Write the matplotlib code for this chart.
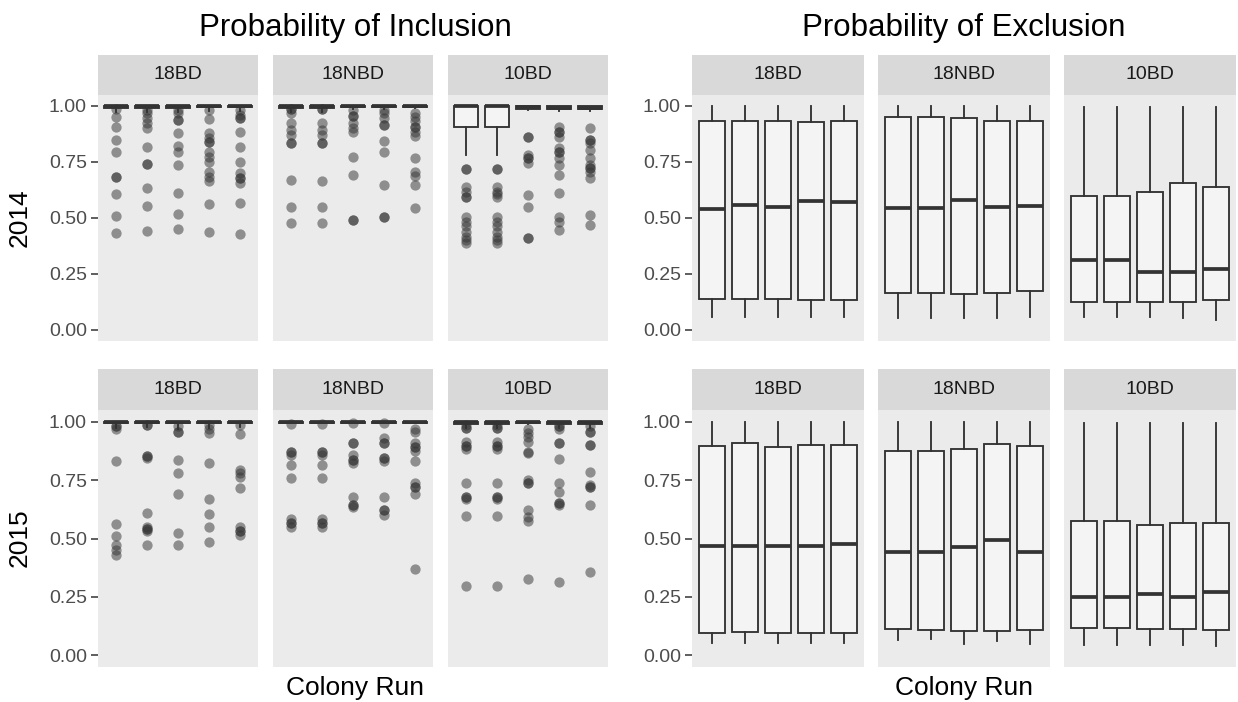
import matplotlib.pyplot as plt
import numpy as np

plt.rcParams['font.family'] = ['Liberation Sans', 'DejaVu Sans']

W, H = 1238, 702
sites = ['18BD', '18NBD', '10BD']
years = ['2014', '2015']
runs = [1, 2, 3, 4, 5]

# ---- Probability of Inclusion: box stats per site (5 runs each) ----
inc14_q1 = [[0.99, 0.99, 0.99, 0.992, 0.992],
            [0.99, 0.99, 0.992, 0.992, 0.993],
            [0.903, 0.903, 0.987, 0.985, 0.985]]
inc14_med = [[1.0, 1.0, 1.0, 1.0, 1.0],
             [1.0, 1.0, 1.0, 1.0, 1.0],
             [1.0, 1.0, 0.993, 0.99, 0.99]]
inc14_q3 = [[1.0, 1.0, 1.0, 1.0, 1.0],
            [1.0, 1.0, 1.0, 1.0, 1.0],
            [1.0, 1.0, 0.998, 0.997, 0.997]]
inc14_lo = [[0.972, 0.972, 0.972, 0.978, 0.978],
            [0.972, 0.972, 0.985, 0.985, 0.99],
            [0.78, 0.78, 0.98, 0.975, 0.975]]
inc14_out = [
    [[0.984, 0.951, 0.906, 0.847, 0.795, 0.684, 0.684, 0.605, 0.51, 0.431],
     [0.98, 0.966, 0.944, 0.921, 0.899, 0.817, 0.738, 0.738, 0.634, 0.553, 0.443],
     [0.98, 0.966, 0.936, 0.936, 0.88, 0.82, 0.795, 0.735, 0.612, 0.517, 0.449],
     [0.98, 0.939, 0.88, 0.854, 0.84, 0.84, 0.795, 0.773, 0.75, 0.706, 0.684, 0.666, 0.56, 0.435],
     [0.98, 0.958, 0.944, 0.944, 0.884, 0.814, 0.75, 0.698, 0.676, 0.676, 0.657, 0.565, 0.428]],
    [[0.984, 0.984, 0.966, 0.924, 0.892, 0.869, 0.835, 0.835, 0.669, 0.55, 0.475],
     [0.984, 0.984, 0.924, 0.892, 0.869, 0.835, 0.835, 0.666, 0.55, 0.475],
     [0.98, 0.954, 0.954, 0.921, 0.899, 0.884, 0.773, 0.691, 0.49, 0.49],
     [0.98, 0.966, 0.944, 0.914, 0.914, 0.842, 0.795, 0.646, 0.505, 0.505],
     [0.969, 0.95, 0.93, 0.907, 0.907, 0.884, 0.865, 0.765, 0.706, 0.686, 0.646, 0.542]],
    [[0.718, 0.718, 0.639, 0.617, 0.594, 0.594, 0.505, 0.483, 0.461, 0.438, 0.416, 0.4, 0.386],
     [0.718, 0.718, 0.639, 0.617, 0.605, 0.594, 0.505, 0.483, 0.461, 0.438, 0.416, 0.4, 0.386],
     [0.862, 0.862, 0.78, 0.765, 0.765, 0.743, 0.602, 0.55, 0.409, 0.409],
     [0.906, 0.884, 0.884, 0.862, 0.81, 0.795, 0.795, 0.765, 0.735, 0.691, 0.612, 0.505, 0.483, 0.446],
     [0.899, 0.847, 0.847, 0.835, 0.802, 0.765, 0.735, 0.721, 0.721, 0.706, 0.676, 0.513, 0.468]]]

inc15_q1 = [[0.993, 0.993, 0.993, 0.993, 0.993],
            [0.995, 0.995, 0.995, 0.995, 0.995],
            [0.99, 0.99, 0.993, 0.99, 0.99]]
inc15_med = [[1.0, 1.0, 1.0, 1.0, 1.0],
             [1.0, 1.0, 1.0, 1.0, 1.0],
             [1.0, 1.0, 1.0, 1.0, 1.0]]
inc15_q3 = [[1.0, 1.0, 1.0, 1.0, 1.0],
            [1.0, 1.0, 1.0, 1.0, 1.0],
            [1.0, 1.0, 1.0, 1.0, 1.0]]
inc15_lo = [[0.972, 0.978, 0.968, 0.972, 0.978],
            [0.993, 0.993, 0.993, 0.993, 0.993],
            [0.972, 0.972, 0.99, 0.972, 0.972]]
inc15_out = [
    [[0.981, 0.981, 0.967, 0.832, 0.561, 0.509, 0.473, 0.452, 0.43],
     [0.986, 0.986, 0.853, 0.853, 0.846, 0.611, 0.551, 0.54, 0.54, 0.53, 0.473],
     [0.98, 0.957, 0.957, 0.836, 0.782, 0.691, 0.523, 0.473],
     [0.986, 0.967, 0.95, 0.825, 0.668, 0.605, 0.548, 0.487],
     [0.986, 0.947, 0.793, 0.779, 0.762, 0.715, 0.551, 0.53, 0.53, 0.516]],
    [[0.99, 0.872, 0.872, 0.858, 0.815, 0.758, 0.583, 0.566, 0.566, 0.551],
     [0.99, 0.872, 0.872, 0.858, 0.815, 0.758, 0.583, 0.566, 0.566, 0.551],
     [0.993, 0.907, 0.907, 0.858, 0.836, 0.836, 0.822, 0.679, 0.644, 0.644, 0.634],
     [0.993, 0.929, 0.91, 0.91, 0.843, 0.843, 0.833, 0.677, 0.62, 0.62, 0.601],
     [0.967, 0.957, 0.907, 0.89, 0.89, 0.876, 0.832, 0.736, 0.719, 0.719, 0.691, 0.37]],
    [[0.986, 0.971, 0.971, 0.915, 0.896, 0.896, 0.882, 0.739, 0.679, 0.679, 0.668, 0.597, 0.295],
     [0.986, 0.971, 0.971, 0.915, 0.896, 0.896, 0.882, 0.739, 0.679, 0.679, 0.668, 0.597, 0.295],
     [0.967, 0.953, 0.936, 0.915, 0.872, 0.865, 0.751, 0.739, 0.739, 0.622, 0.594, 0.577, 0.328],
     [0.981, 0.981, 0.967, 0.91, 0.91, 0.839, 0.739, 0.697, 0.654, 0.654, 0.644, 0.313],
     [0.98, 0.957, 0.957, 0.9, 0.9, 0.786, 0.729, 0.719, 0.719, 0.644, 0.356]]]

# ---- Probability of Exclusion: box stats per site ----
exc14_q1 = [[0.137, 0.137, 0.137, 0.132, 0.134],
            [0.166, 0.166, 0.159, 0.166, 0.174],
            [0.126, 0.126, 0.123, 0.123, 0.134]]
exc14_med = [[0.538, 0.557, 0.547, 0.575, 0.572],
             [0.545, 0.545, 0.58, 0.547, 0.554],
             [0.312, 0.312, 0.26, 0.26, 0.27]]
exc14_q3 = [[0.932, 0.932, 0.932, 0.926, 0.932],
            [0.949, 0.949, 0.944, 0.933, 0.933],
            [0.599, 0.599, 0.615, 0.657, 0.636]]
exc14_lo = [[0.056, 0.056, 0.056, 0.056, 0.056],
            [0.052, 0.052, 0.052, 0.052, 0.056],
            [0.059, 0.059, 0.059, 0.052, 0.045]]
exc14_hi = [[1.0, 1.0, 1.0, 1.0, 1.0],
            [1.0, 1.0, 1.0, 1.0, 1.0],
            [0.996, 0.996, 0.996, 0.996, 0.996]]

exc15_q1 = [[0.095, 0.098, 0.095, 0.095, 0.095],
            [0.113, 0.11, 0.103, 0.103, 0.107],
            [0.117, 0.117, 0.114, 0.114, 0.11]]
exc15_med = [[0.466, 0.466, 0.466, 0.469, 0.477],
             [0.444, 0.444, 0.462, 0.494, 0.444],
             [0.249, 0.249, 0.264, 0.249, 0.271]]
exc15_q3 = [[0.896, 0.907, 0.893, 0.9, 0.9],
            [0.876, 0.876, 0.882, 0.903, 0.896],
            [0.573, 0.573, 0.556, 0.568, 0.566]]
exc15_lo = [[0.053, 0.053, 0.053, 0.053, 0.053],
            [0.067, 0.07, 0.05, 0.06, 0.05],
            [0.046, 0.046, 0.046, 0.046, 0.041]]
exc15_hi = [[1.0, 1.0, 1.0, 1.0, 1.0],
            [1.0, 1.0, 1.0, 1.0, 1.0],
            [0.996, 0.996, 0.996, 0.996, 0.996]]

yticks = [0.0, 0.25, 0.5, 0.75, 1.0]

fig = plt.figure(figsize=(W / 100, H / 100), dpi=100)


def px_axes(x0, y0, x1, y1):
    return fig.add_axes([x0 / W, 1 - y1 / H, (x1 - x0) / W, (y1 - y0) / H])


left_cols = [(98, 258), (273, 433), (448, 608)]
right_cols = [(692, 864), (878, 1050), (1064, 1236)]
rows = [(55, 94.5, 341), (369, 410, 667)]

inc = [(inc14_q1, inc14_med, inc14_q3, inc14_lo, None, inc14_out),
       (inc15_q1, inc15_med, inc15_q3, inc15_lo, None, inc15_out)]
exc = [(exc14_q1, exc14_med, exc14_q3, exc14_lo, exc14_hi, None),
       (exc15_q1, exc15_med, exc15_q3, exc15_lo, exc15_hi, None)]

line_c = '#333333'


def draw_panel(ax, q1, med, q3, lo, hi, out):
    stats = []
    for i in range(len(runs)):
        stats.append(dict(q1=q1[i], med=med[i], q3=q3[i], whislo=lo[i],
                          whishi=hi[i] if hi is not None else 1.0,
                          fliers=out[i] if out is not None else []))
    ax.bxp(stats, positions=runs, widths=0.78, showcaps=False, patch_artist=True,
           boxprops=dict(facecolor='#F4F4F4', edgecolor=line_c, linewidth=1.35),
           whiskerprops=dict(color=line_c, linewidth=1.35),
           medianprops=dict(color=line_c, linewidth=2.7),
           flierprops=dict(marker='o', markerfacecolor=line_c, markeredgecolor='none',
                           alpha=0.5, markersize=7.4))


for cols, data in [(left_cols, inc), (right_cols, exc)]:
    for r, (s0, p0, p1) in enumerate(rows):
        q1, med, q3, lo, hi, out = data[r]
        for c, (x0, x1) in enumerate(cols):
            ax = px_axes(x0, p0, x1, p1)
            ax.set_facecolor('#EBEBEB')
            draw_panel(ax, q1[c], med[c], q3[c], lo[c],
                       hi[c] if hi is not None else None,
                       out[c] if out is not None else None)
            ax.set_xlim(0.4, 5.6)
            ax.set_ylim(-0.05, 1.05)
            for sp in ax.spines.values():
                sp.set_visible(False)
            ax.set_xticks([])
            if c == 0:
                ax.set_yticks(yticks)
                ax.set_yticklabels(['%.2f' % t for t in yticks])
                ax.tick_params(axis='y', length=5, width=1.1, color=line_c,
                               labelcolor='#4D4D4D', labelsize=14, pad=3)
            else:
                ax.set_yticks([])
            st = px_axes(x0, s0, x1, p0)
            st.set_facecolor('#D9D9D9')
            st.set_xticks([])
            st.set_yticks([])
            for sp in st.spines.values():
                sp.set_visible(False)
            st.text(0.5, 0.5, sites[c], ha='center', va='center', fontsize=14,
                    color='#1A1A1A', transform=st.transAxes)

# titles and axis labels
fig.text(355 / W, 1 - 28 / H, 'Probability of Inclusion', ha='center', va='center', fontsize=22.5)
fig.text(964 / W, 1 - 28 / H, 'Probability of Exclusion', ha='center', va='center', fontsize=22.5)
fig.text(355 / W, 1 - 688 / H, 'Colony Run', ha='center', va='center', fontsize=19)
fig.text(964 / W, 1 - 688 / H, 'Colony Run', ha='center', va='center', fontsize=19)
fig.text(20 / W, 1 - 218 / H, years[0], ha='center', va='center', rotation=90, fontsize=19)
fig.text(20 / W, 1 - 538 / H, years[1], ha='center', va='center', rotation=90, fontsize=19)

fig.savefig('out.png', dpi=100)
